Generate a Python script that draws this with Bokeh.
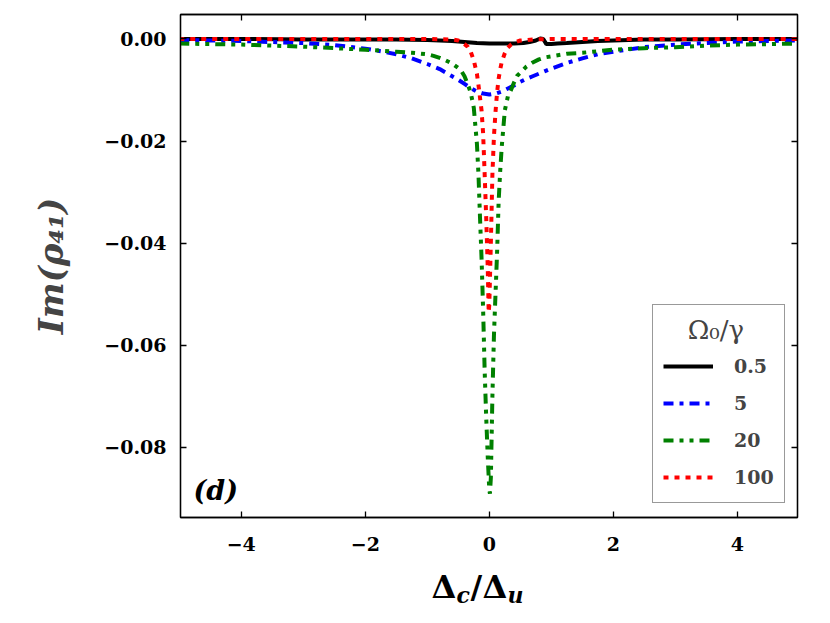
from bokeh.plotting import figure
from bokeh.models import (Range1d, LinearAxis, FixedTicker, CustomJSTickFormatter,
                          Legend, LegendItem, Label)
from bokeh.layouts import column
from bokeh.core.properties import value
from bokeh.embed import file_html
from bokeh.resources import INLINE

# ---- data ----
x_tick_vals = [-4, -2, 0, 2, 4]
y_tick_vals = [-0.08, -0.06, -0.04, -0.02, 0.0]
series_labels = ["0.5", "5", "20", "100"]
legend_title = "Ω₀/γ"

# Omega0/gamma = 0.5
x_05 = [-5, -4, -3, -2, -1.5, -1, -0.8, -0.6, -0.4, -0.2, 0, 0.2, 0.4, 0.55, 0.65, 0.75,
        0.82, 0.87, 0.92, 1.0, 1.1, 1.25, 1.5, 1.75, 2, 2.5, 3, 4, 5]
y_05 = [0, 0, -0.0001, -0.0001, -0.0001, -0.0002, -0.0003, -0.0004, -0.0006, -0.0008, -0.0009,
        -0.0009, -0.0009, -0.0008, -0.0006, -0.0003, 0.0001, 0.0000, -0.0010, -0.0010, -0.0009,
        -0.0008, -0.0006, -0.0004, -0.0003, -0.0001, -0.0001, 0, 0]

# Omega0/gamma = 5
x_5 = [-5, -4.5, -4, -3.5, -3, -2.5, -2, -1.75, -1.5, -1.25, -1, -0.9, -0.8, -0.7, -0.6, -0.5,
       -0.4, -0.3, -0.2, -0.1, 0, 0.1, 0.2, 0.3, 0.4, 0.5, 0.6, 0.7, 0.8, 0.9, 1, 1.25, 1.5,
       1.75, 2, 2.5, 3, 3.5, 4, 4.5, 5]
y_5 = [-0.0002, -0.0003, -0.0004, -0.0006, -0.0008, -0.0012, -0.0019, -0.0024, -0.0030, -0.0038,
       -0.0049, -0.0054, -0.0059, -0.0066, -0.0073, -0.0080, -0.0088, -0.0096, -0.0103, -0.0107,
       -0.0109, -0.0107, -0.0103, -0.0097, -0.0091, -0.0084, -0.0078, -0.0073, -0.0068, -0.0063,
       -0.0058, -0.0047, -0.0038, -0.0030, -0.0025, -0.0016, -0.0011, -0.0008, -0.0005, -0.0004,
       -0.0003]

# Omega0/gamma = 20
x_20 = [-5, -4.5, -4, -3.5, -3, -2.5, -2, -1.75, -1.5, -1.25, -1, -0.9, -0.8, -0.7, -0.6, -0.5,
        -0.45, -0.4, -0.35, -0.3, -0.25, -0.2, -0.175, -0.15, -0.125, -0.1, -0.075, -0.05,
        -0.025, 0, 0.01, 0.025, 0.05, 0.075, 0.1, 0.125, 0.15, 0.175, 0.2, 0.25, 0.3, 0.35,
        0.4, 0.45, 0.5, 0.6, 0.7, 0.8, 0.9, 1.0, 1.25, 1.5, 1.75, 2, 2.5, 3, 3.5, 4, 4.5, 5]
y_20 = [-0.0009, -0.0010, -0.0011, -0.0013, -0.0015, -0.0018, -0.0021, -0.0023, -0.0025, -0.0027,
        -0.0030, -0.0033, -0.0037, -0.0042, -0.0048, -0.0057, -0.0063, -0.0073, -0.0088, -0.0105,
        -0.0135, -0.0205, -0.0265, -0.0350, -0.0430, -0.0530, -0.0650, -0.0742, -0.0820, -0.0885,
        -0.0891, -0.0860, -0.0700, -0.0580, -0.0500, -0.0420, -0.0320, -0.0260, -0.0212, -0.0140,
        -0.0112, -0.0100, -0.0085, -0.0072, -0.0066, -0.0054, -0.0046, -0.0040, -0.0036, -0.0034,
        -0.0029, -0.0027, -0.0024, -0.0021, -0.0018, -0.0016, -0.0013, -0.0011, -0.0010, -0.0009]

# Omega0/gamma = 100
x_100 = [-5, -1, -0.6, -0.5, -0.45, -0.4, -0.35, -0.3, -0.25, -0.2, -0.175, -0.15, -0.125, -0.1,
         -0.075, -0.05, -0.025, -0.01, 0, 0.025, 0.05, 0.075, 0.1, 0.125, 0.15, 0.175, 0.2, 0.25,
         0.3, 0.35, 0.4, 0.5, 0.7, 1, 5]
y_100 = [0, 0, -0.0001, -0.0003, -0.0006, -0.0010, -0.0015, -0.0025, -0.0042, -0.0068, -0.0090,
         -0.0115, -0.0140, -0.0185, -0.0265, -0.0350, -0.0450, -0.0536, -0.0520, -0.0400, -0.0265,
         -0.0190, -0.0143, -0.0105, -0.0078, -0.0060, -0.0045, -0.0028, -0.0017, -0.0011, -0.0007,
         -0.0003, -0.0001, 0, 0]

SERIF = "DejaVu Serif"
W = 814
H_MAIN = 560
H_XLAB = 47
FRAME_L, FRAME_R = 180, 797   # pixel extent of the plot frame (strip frame is aligned to it)

p = figure(width=W, height=H_MAIN, output_backend="svg", toolbar_location=None,
           title_location=None,
           x_range=Range1d(-4.98, 4.97), y_range=Range1d(-0.0938, 0.0048),
           min_border_left=FRAME_L, min_border_right=W - FRAME_R, min_border_top=14,
           min_border_bottom=43)
p.xgrid.visible = False
p.ygrid.visible = False
p.outline_line_color = "black"
p.outline_line_width = 1.3
p.background_fill_color = "white"

fmt_y = CustomJSTickFormatter(code="return tick.toFixed(2).replace('-', '\u2212');")
fmt_x = CustomJSTickFormatter(code="return tick.toFixed(0).replace('-', '\u2212');")

for ax, ticks, fmt, standoff in ((p.xaxis[0], x_tick_vals, fmt_x, 19),
                                 (p.yaxis[0], y_tick_vals, fmt_y, 14)):
    ax.ticker = FixedTicker(ticks=ticks)
    ax.formatter = fmt
    ax.major_tick_in = 6
    ax.major_tick_out = 0
    ax.minor_tick_line_color = None
    ax.axis_line_width = 1.3
    ax.major_tick_line_width = 1.3
    ax.major_label_text_font = SERIF
    ax.major_label_text_font_style = "bold"
    ax.major_label_text_font_size = "19px"
    ax.major_label_text_color = "black"
    ax.major_label_standoff = standoff

p.yaxis[0].axis_label = "Im(ρ₄₁)"
p.yaxis[0].axis_label_text_font = SERIF
p.yaxis[0].axis_label_text_font_style = "bold italic"
p.yaxis[0].axis_label_text_font_size = "34px"
p.yaxis[0].axis_label_standoff = 30

# mirrored tick marks on the top and right edges (no labels drawn)
for ticks, place in ((x_tick_vals, "above"), (y_tick_vals, "right")):
    ax = LinearAxis(ticker=FixedTicker(ticks=ticks), major_label_text_font_size="0px",
                    major_label_text_color=None,
                    major_tick_in=6, major_tick_out=0, minor_tick_line_color=None,
                    axis_line_width=1.3, major_tick_line_width=1.3, major_label_standoff=0)
    p.add_layout(ax, place)

r0 = p.line(x_05, y_05, line_color="black", line_width=4)
r1 = p.line(x_5, y_5, line_color="blue", line_width=4, line_dash="10 6 4 6")
r2 = p.line(x_20, y_20, line_color="green", line_width=4, line_dash="10 6 4 6 4 6")
r3 = p.line(x_100, y_100, line_color="red", line_width=4, line_dash="5 6")

legend = Legend(items=[LegendItem(label=value(lbl), renderers=[r])
                       for lbl, r in zip(series_labels, [r0, r1, r2, r3])],
                location=(472, 14),
                title="\u00a0\u00a0\u00a0" + legend_title,
                title_text_font=SERIF, title_text_font_size="26px", title_text_font_style="normal",
                label_text_font=SERIF, label_text_font_style="bold", label_text_font_size="19px",
                glyph_width=50, glyph_height=30, label_height=30, label_standoff=21,
                spacing=7, padding=10, margin=0, title_standoff=6,
                border_line_color="#333333", border_line_width=1.2,
                background_fill_color="white", background_fill_alpha=1.0)
p.add_layout(legend)

p.add_layout(Label(x=13, y=27, x_units="screen", y_units="screen", text="(d)",
                   text_font=SERIF, text_font_size="27px", text_font_style="bold italic",
                   text_baseline="middle", text_color="black"))

# x-axis label (Delta_c / Delta_u) drawn in a strip below the main plot;
# the strip's frame is aligned with the main frame, so its x range is in page pixels.
q = figure(width=W, height=H_XLAB, output_backend="svg", toolbar_location=None,
           title_location=None,
           x_range=Range1d(FRAME_L, FRAME_R), y_range=Range1d(0, H_XLAB),
           min_border_left=FRAME_L, min_border_right=W - FRAME_R,
           min_border_top=0, min_border_bottom=0,
           x_axis_type=None, y_axis_type=None)
q.outline_line_color = None
q.xgrid.visible = False
q.ygrid.visible = False

def lab(txt, x, y, size, style):
    q.add_layout(Label(x=x, y=y, text=txt, text_font=SERIF, text_font_size=size,
                       text_font_style=style, text_align="left", text_baseline="middle",
                       text_color="black"))

lab("Δ", 431, 21, "32px", "bold")
lab("c", 456, 13, "22px", "bold italic")
lab("/", 470, 21, "32px", "bold")
lab("Δ", 482, 21, "32px", "bold")
lab("u", 507, 13, "22px", "bold italic")

layout = column(p, q, spacing=0)
open("out.html", "w").write(file_html(layout, INLINE))
